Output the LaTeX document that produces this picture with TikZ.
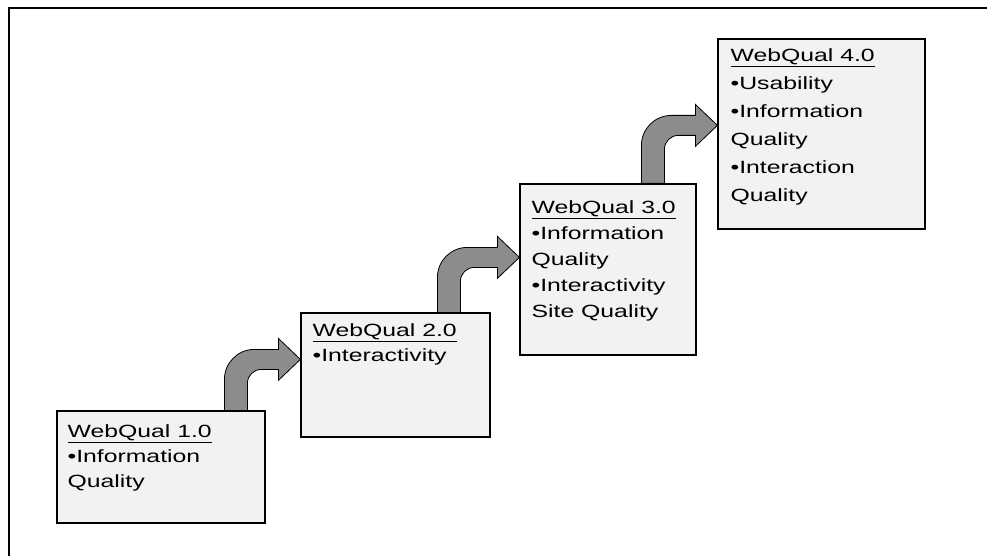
\documentclass[tikz,border=0pt]{standalone}
\usepackage{fontspec}
\newfontfamily\webfont[FakeStretch=1.4]{Liberation Sans}
\usetikzlibrary{calc}
\tikzset{
	qbox/.style={shape=rectangle, draw, line width=1.2pt, fill=black!5, inner sep=0pt},
	qtext/.style={anchor=north west, align=left, inner sep=0pt, font=\webfont\fontsize{17.7}{25}\selectfont},
	qarrow/.style={draw, line width=0.8pt, fill=black!45},
	frame/.style={line width=1.5pt}
}
% bent arrow: stem from #1 (bottom left), head tip at #2
\newcommand\bentarrow[2]{%
	\path[qarrow] let \p1=(#1), \p2=(#2) in
		(\x1,\y1) -- (\x1,\y2-20pt) to[out=90, in=180] (\x1+30pt,\y2+10pt)
		-- (\x2-22pt,\y2+10pt) -- (\x2-22pt,\y2+21pt) -- (\x2,\y2)
		-- (\x2-22pt,\y2-21pt) -- (\x2-22pt,\y2-10pt)
		-- (\x1+37pt,\y2-10pt) to[out=180, in=90] (\x1+23pt,\y2-24pt)
		-- (\x1+23pt,\y1) -- cycle;}
\begin{document}
\begin{tikzpicture}[x=1pt, y=-1pt]
	\useasboundingbox (0,0) rectangle (987,556);
	% Frame:
	\draw[frame] (987,8) -- (9,8) -- (9,556);
	% Boxes:
	\node[qbox, minimum width=208, minimum height=112] (box1) at (161,467) {};
	\node[qbox, minimum width=189, minimum height=124] (box2) at (395.5,375) {};
	\node[qbox, minimum width=176, minimum height=171] (box3) at (608,269.5) {};
	\node[qbox, minimum width=207, minimum height=190] (box4) at (821.5,134) {};
	% Texts:
	\node[qtext] (txt1) at ([shift={(11,14)}]box1.north west) {\underline{WebQual 1.0}\\•Information\\Quality};
	\node[qtext] (txt2) at ([shift={(12,11)}]box2.north west) {\underline{WebQual 2.0}\\•Interactivity};
	\node[qtext, font=\webfont\fontsize{17.7}{26}\selectfont] (txt3) at ([shift={(12,17)}]box3.north west) {\underline{WebQual 3.0}\\•Information\\Quality\\•Interactivity\\Site Quality};
	\node[qtext, font=\webfont\fontsize{17.7}{28}\selectfont] (txt4) at ([shift={(13,10)}]box4.north west) {\underline{WebQual 4.0}\\•Usability\\•Information\\Quality\\•Interaction\\Quality};
	% Arrows:
	\coordinate (s1) at ([xshift=168]box1.north west);
	\coordinate (t1) at ([yshift=-47]box2.north west);
	\coordinate (s2) at ([xshift=137]box2.north west);
	\coordinate (t2) at ([yshift=-74]box3.north west);
	\coordinate (s3) at ([xshift=122]box3.north west);
	\coordinate (t3) at ([yshift=-87]box4.north west);
	\bentarrow{s1}{t1}
	\bentarrow{s2}{t2}
	\bentarrow{s3}{t3}
\end{tikzpicture}
\end{document}
